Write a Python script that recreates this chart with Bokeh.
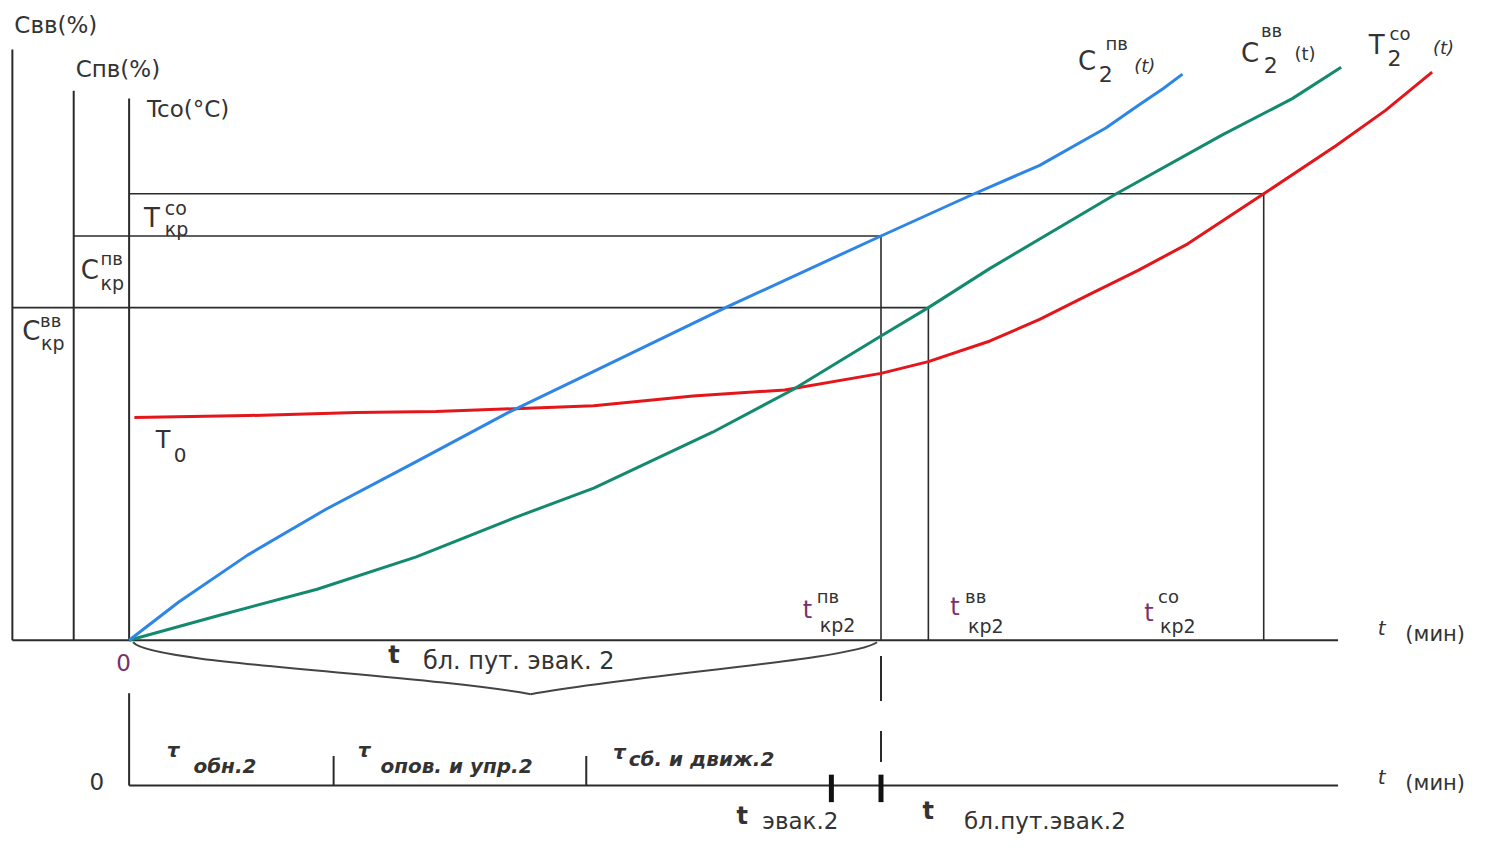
from bokeh.plotting import figure
from bokeh.models import Range1d
from bokeh.core.properties import value
from bokeh.embed import file_html
from bokeh.resources import INLINE

# ---------------- data (t in min, values in chart units) ----------------
t_pv = [0, 0.66, 1.58, 2.63, 3.82, 5.04, 6.18, 7.96, 10.0, 11.18, 12.11, 12.99, 13.42, 13.75, 14.01]
c_pv = [0, 7.8, 17.4, 26.8, 36.4, 46.4, 54.8, 68.0, 82.4, 90.6, 96.8, 104.4, 109.0, 112.4, 115.4]

t_vv = [0, 1.18, 2.5, 3.82, 5.13, 6.18, 7.76, 8.82, 10.0, 10.63, 11.45, 13.13, 14.54, 15.47, 16.12]
c_vv = [0, 5.0, 10.4, 17.0, 25.0, 31.0, 42.4, 51.0, 62.0, 67.8, 75.8, 91.0, 103.0, 110.4, 116.8]

t_co = [0.07, 1.58, 3.03, 4.08, 6.18, 7.5, 8.72, 10.0, 10.63, 11.45, 12.11, 12.76, 13.42, 14.08, 15.09, 16.05, 16.71, 17.33]
T_co = [45.4, 45.8, 46.4, 46.6, 47.8, 49.8, 51.0, 54.4, 56.8, 61.0, 65.4, 70.4, 75.4, 80.8, 91.0, 100.8, 108.0, 115.8]

# critical times and levels
t_kr_pv, t_kr_vv, t_kr_co = 10.0, 10.63, 15.09
C_kr_pv, C_kr_vv, T_kr_co = 82.4, 67.8, 91.0

# evacuation timeline (lower axis)
tau_obn = 2.72
tau_opov = 6.08
t_evak = 9.34
t_bl = t_kr_pv

# ---------------- layout helpers (reference pixel -> data) ----------------
def X(px):
    return (px - 130) / 76.0

def V(py):
    return (652 - py) / 5.0

# axis positions
ax_vv = X(12)
ax_pv = X(74)
ax_co = 0.0
t_end = X(1352)
low_v = V(800)

p = figure(width=1483, height=835, output_backend="svg", toolbar_location=None,
           x_range=Range1d(X(0), X(1499)), y_range=Range1d(V(851), V(0)),
           min_border=0, background_fill_color="white", border_fill_color="white")
p.axis.visible = False
p.grid.visible = False
p.outline_line_color = None

AX = "#2b2b2b"
GR = "#333333"

# axes
p.line([ax_vv, ax_vv], [V(50), 0], line_color=AX, line_width=2)
p.line([ax_pv, ax_pv], [V(92), 0], line_color=AX, line_width=2)
p.line([ax_co, ax_co], [V(100), 0], line_color=AX, line_width=2)
p.line([ax_vv, t_end], [0, 0], line_color=AX, line_width=2)

# critical level lines
p.line([ax_co, t_kr_co], [T_kr_co, T_kr_co], line_color=AX, line_width=1.6)
p.line([t_kr_co, t_kr_co], [T_kr_co, 0], line_color=AX, line_width=1.6)
p.line([ax_pv, t_kr_pv], [C_kr_pv, C_kr_pv], line_color=AX, line_width=1.6)
p.line([t_kr_pv, t_kr_pv], [C_kr_pv, 0], line_color=AX, line_width=1.6)
p.line([ax_vv, t_kr_vv], [C_kr_vv, C_kr_vv], line_color=AX, line_width=1.6)
p.line([t_kr_vv, t_kr_vv], [C_kr_vv, 0], line_color=AX, line_width=1.6)

# curves
p.line(t_co, T_co, line_color="#e3161b", line_width=3, line_join="round")
p.line(t_vv, c_vv, line_color="#138a6e", line_width=3, line_join="round")
p.line(t_pv, c_pv, line_color="#2d86e6", line_width=3, line_join="round")

# brace under main axis
p.bezier(x0=[X(134)], y0=[V(654)], x1=[X(536)], y1=[V(707)],
         cx0=[X(150)], cy0=[V(676)], cx1=[X(420)], cy1=[V(686)],
         line_color="#444444", line_width=2)
p.bezier(x0=[X(536)], y0=[V(707)], x1=[X(886)], y1=[V(654)],
         cx0=[X(650)], cy0=[V(686)], cx1=[X(860)], cy1=[V(672)],
         line_color="#444444", line_width=2)

# dashed connector
p.line([t_bl, t_bl], [V(668), V(776)], line_color=AX, line_width=2, line_dash="45 30")

# lower timeline
p.line([0, 0], [V(706), low_v], line_color=AX, line_width=2)
p.line([0, t_end], [low_v, low_v], line_color=AX, line_width=2)
for tt in [tau_obn, tau_opov]:
    p.line([tt, tt], [V(770), low_v], line_color=AX, line_width=2)
for tt in [t_evak, t_bl]:
    p.line([tt, tt], [V(789), V(817)], line_color="#111111", line_width=5)

# ---------------- texts ----------------
FONT = "DejaVu Sans"

def lab(px, py, s, size, color=GR, style="normal"):
    p.text(x=[X(px)], y=[V(py)], text=[s], text_font=value(FONT),
           text_font_size=f"{size}px", text_color=color, text_font_style=style,
           text_align="left", text_baseline="middle")

lab(14, 25, "Cвв(%)", 23)
lab(76, 70, "Cпв(%)", 23)
lab(148, 111, "Tco(°C)", 23)

lab(145, 222, "T", 26)
lab(166, 211, "co", 19)
lab(166, 233, "кр", 19)

lab(81, 275, "C", 26)
lab(101, 263, "пв", 18)
lab(101, 288, "кр", 19)

lab(22, 337, "C", 26)
lab(40, 326, "вв", 18)
lab(41, 349, "кр", 19)

lab(157, 448, "T", 24)
lab(175, 463, "0", 20)

lab(1089, 62, "C", 26)
lab(1110, 75, "2", 22)
lab(1117, 44, "пв", 18)
lab(1146, 66, "(t)", 18, style="italic")

lab(1254, 53, "C", 26)
lab(1277, 66, "2", 22)
lab(1274, 31, "вв", 18)
lab(1308, 54, "(t)", 18)

lab(1383, 45, "T", 26)
lab(1402, 59, "2", 22)
lab(1404, 34, "co", 18)
lab(1448, 48, "(t)", 18, style="italic")

PUR = "#7a2f6e"
lab(811, 621, "t", 24, color=PUR)
lab(825, 607, "пв", 18)
lab(828, 636, "кр2", 19)
lab(960, 618, "t", 24, color=PUR)
lab(975, 607, "вв", 18)
lab(978, 637, "кр2", 19)
lab(1156, 624, "t", 24, color=PUR)
lab(1170, 607, "co", 18)
lab(1172, 637, "кр2", 19)

lab(1392, 640, "t", 20, style="italic")
lab(1420, 646, "(мин)", 21)

lab(117, 675, "0", 23, color=PUR)
lab(392, 667, "t", 24, style="bold")
lab(427, 673, "бл. пут. эвак. 2", 24)

lab(90, 796, "0", 23)
lab(168, 764, "τ", 20, style="bold italic")
lab(195, 780, "обн.2", 20, style="bold italic")
lab(361, 764, "τ", 20, style="bold italic")
lab(384, 780, "опов. и упр.2", 20, style="bold italic")
lab(619, 766, "τ", 20, style="bold italic")
lab(635, 773, "сб. и движ.2", 20, style="bold italic")

lab(744, 831, "t", 24, style="bold")
lab(770, 836, "эвак.2", 23)
lab(932, 826, "t", 24, style="bold")
lab(974, 836, "бл.пут.эвак.2", 23)

lab(1392, 791, "t", 20, style="italic")
lab(1420, 797, "(мин)", 21)

open("out.html", "w").write(file_html(p, INLINE))
